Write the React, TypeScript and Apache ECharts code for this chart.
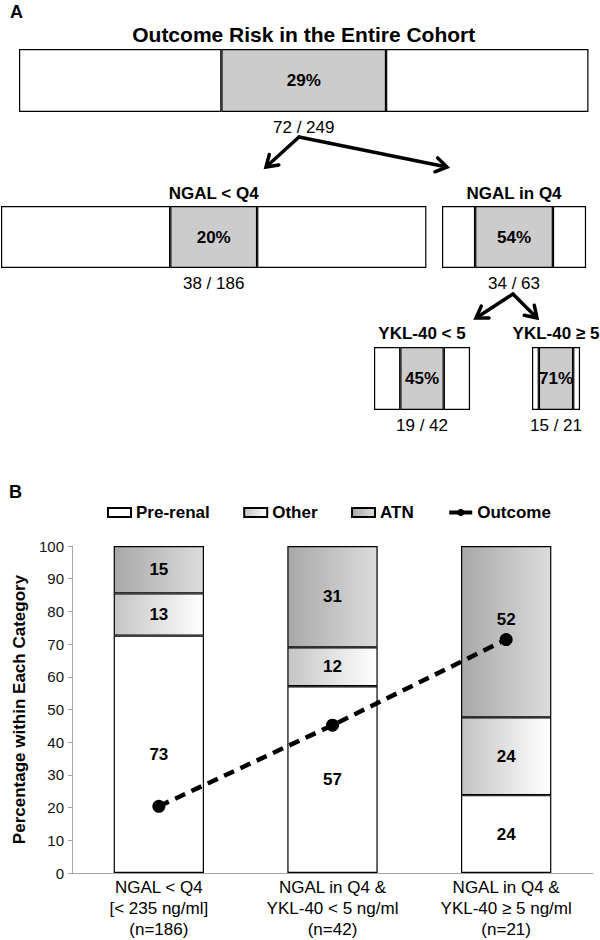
import React, { useEffect, useRef } from "react";
import * as echarts from "echarts";

// ---------- Panel A data ----------
const boxTitles = ["Outcome Risk in the Entire Cohort", "NGAL < Q4", "NGAL in Q4", "YKL-40 < 5", "YKL-40 ≥ 5"];
const boxEvents = [72, 38, 34, 19, 15];
const boxTotals = [249, 186, 63, 42, 21];

// ---------- Panel B data ----------
const categories = [
  "NGAL < Q4\n[< 235 ng/ml]\n(n=186)",
  "NGAL in Q4 &\nYKL-40 < 5 ng/ml\n(n=42)",
  "NGAL in Q4 &\nYKL-40 ≥ 5 ng/ml\n(n=21)",
];
const preRenal = [72.6, 57.1, 23.8];
const other = [12.9, 11.9, 23.8];
const atn = [14.5, 31.0, 52.4];
const outcome = [20.4, 45.2, 71.4];

// ---------- layout (not data) ----------
const FONT = "'Liberation Sans', Arial, Helvetica, sans-serif";
const PX_PER_PATIENT = 2.287;
const boxLayout = [
  { x: 19, y: 49, h: 63, titleY: 34, titleSize: 21 },
  { x: 1, y: 206, h: 62, titleY: 193, titleSize: 17 },
  { x: 442, y: 206, h: 62, titleY: 193, titleSize: 17 },
  { x: 374, y: 347, h: 63, titleY: 333, titleSize: 17 },
  { x: 532, y: 347, h: 63, titleY: 333, titleSize: 17 },
];
const arrows = [
  [299, 137, 266, 167],
  [299, 137, 447, 167],
  [513, 294, 476, 318],
  [513, 294, 537, 318],
];

function arrowEls(x1: number, y1: number, x2: number, y2: number) {
  const dx = x2 - x1;
  const dy = y2 - y1;
  const len = Math.sqrt(dx * dx + dy * dy);
  const ux = dx / len;
  const uy = dy / len;
  const L = 13;
  const a = (33 * Math.PI) / 180;
  const w1 = [x2 - L * (ux * Math.cos(a) - uy * Math.sin(a)), y2 - L * (uy * Math.cos(a) + ux * Math.sin(a))];
  const w2 = [x2 - L * (ux * Math.cos(a) + uy * Math.sin(a)), y2 - L * (uy * Math.cos(a) - ux * Math.sin(a))];
  return [
    {
      type: "line",
      shape: { x1, y1, x2: x2 - ux * 1.5, y2: y2 - uy * 1.5 },
      style: { stroke: "#000", lineWidth: 3.5, lineCap: "round" },
    },
    {
      type: "polyline",
      shape: { points: [w1, [x2, y2], w2] },
      style: { stroke: "#000", lineWidth: 3.5, fill: null, lineJoin: "miter", lineCap: "round" },
    },
  ];
}

export default function App() {
  const ref = useRef<HTMLDivElement>(null);

  useEffect(() => {
    document.body.style.margin = "0";
    if (!ref.current) return;
    const chart = echarts.init(ref.current, null, { renderer: "svg" });

    const grids: any[] = [];
    const xAxes: any[] = [];
    const yAxes: any[] = [];
    const series: any[] = [];
    const graphics: any[] = [];

    // Panel A boxes
    boxTotals.forEach((n, i) => {
      const e = boxEvents[i];
      const lay = boxLayout[i];
      const w = n * PX_PER_PATIENT;
      grids.push({ left: lay.x, top: lay.y, width: w, height: lay.h });
      xAxes.push({ gridIndex: i, type: "value", min: 0, max: n, show: false });
      yAxes.push({ gridIndex: i, type: "category", data: ["box"], show: false });
      const seg = (name: string, value: number, color: string, label: boolean) => ({
        type: "bar",
        name,
        xAxisIndex: i,
        yAxisIndex: i,
        stack: "box" + i,
        barWidth: "100%",
        silent: true,
        data: [value],
        itemStyle: { color, borderColor: "#000", borderWidth: 1.2 },
        label: label
          ? {
              show: true,
              position: "inside",
              formatter: () => Math.round((e / n) * 100) + "%",
              fontFamily: FONT,
              fontWeight: "bold",
              fontSize: 17,
              color: "#000",
            }
          : { show: false },
      });
      series.push(seg("a" + i + "l", (n - e) / 2, "#ffffff", false));
      series.push(seg("a" + i + "m", e, "#cccccc", true));
      series.push(seg("a" + i + "r", (n - e) / 2, "#ffffff", false));

      const cx = lay.x + w / 2;
      graphics.push({
        type: "text",
        x: cx,
        y: lay.titleY,
        style: {
          text: boxTitles[i],
          fill: "#000",
          fontFamily: FONT,
          fontWeight: "bold",
          fontSize: lay.titleSize,
          align: "center",
          verticalAlign: "middle",
          textAlign: "center",
          textVerticalAlign: "middle",
        },
      });
      graphics.push({
        type: "text",
        x: cx,
        y: lay.y + lay.h + 15,
        style: {
          text: `${e} / ${n}`,
          fill: "#000",
          fontFamily: FONT,
          fontSize: 17,
          align: "center",
          verticalAlign: "middle",
          textAlign: "center",
          textVerticalAlign: "middle",
        },
      });
    });

    arrows.forEach((a) => graphics.push(...arrowEls(a[0], a[1], a[2], a[3])));

    graphics.push({
      type: "text",
      x: 10,
      y: 12,
      style: { text: "A", fill: "#000", fontFamily: FONT, fontWeight: "bold", fontSize: 18, verticalAlign: "middle", textVerticalAlign: "middle" },
    });
    graphics.push({
      type: "text",
      x: 9,
      y: 492,
      style: { text: "B", fill: "#000", fontFamily: FONT, fontWeight: "bold", fontSize: 18, verticalAlign: "middle", textVerticalAlign: "middle" },
    });

    // Panel B
    const gi = boxTotals.length;
    grids.push({ left: 72, right: 7, top: 546, bottom: 67 });
    xAxes.push({
      gridIndex: gi,
      type: "category",
      data: categories,
      axisLine: { show: true, lineStyle: { color: "#a6a6a6", width: 1 } },
      axisTick: { show: false },
      axisLabel: { interval: 0, fontFamily: FONT, fontSize: 17, lineHeight: 21, color: "#000", margin: 4 },
    });
    yAxes.push({
      gridIndex: gi,
      type: "value",
      min: 0,
      max: 100,
      interval: 10,
      name: "Percentage within Each Category",
      nameLocation: "middle",
      nameGap: 32,
      nameTextStyle: { fontFamily: FONT, fontWeight: "bold", fontSize: 17, color: "#000" },
      axisLine: { show: true, lineStyle: { color: "#a6a6a6", width: 1 } },
      axisTick: { show: true, length: 4, lineStyle: { color: "#a6a6a6" } },
      axisLabel: { fontFamily: FONT, fontSize: 15, color: "#111", margin: 8 },
      splitLine: { show: false },
    });

    const barLabel = {
      show: true,
      position: "inside",
      formatter: (p: any) => String(Math.round(p.value)),
      fontFamily: FONT,
      fontWeight: "bold",
      fontSize: 17,
      color: "#000",
    };
    const barBase = {
      type: "bar",
      xAxisIndex: gi,
      yAxisIndex: gi,
      stack: "B",
      barCategoryGap: "48%",
      label: barLabel,
    };
    const grad = (c1: string, c2: string) =>
      new echarts.graphic.LinearGradient(0, 0, 1, 0, [
        { offset: 0, color: c1 },
        { offset: 1, color: c2 },
      ]);
    series.push({
      ...barBase,
      name: "Pre-renal",
      data: preRenal,
      itemStyle: { color: "#ffffff", borderColor: "#000", borderWidth: 1.2 },
    });
    series.push({
      ...barBase,
      name: "Other",
      data: other,
      itemStyle: { color: grad("#c4c4c4", "#ffffff"), borderColor: "#000", borderWidth: 1.2 },
    });
    series.push({
      ...barBase,
      name: "ATN",
      data: atn.map((v, i) => (i === atn.length - 1 ? { value: v, label: { offset: [0, -12] } } : v)),
      itemStyle: { color: grad("#a8a8a8", "#dcdcdc"), borderColor: "#000", borderWidth: 1.2 },
    });
    series.push({
      type: "line",
      name: "Outcome",
      xAxisIndex: gi,
      yAxisIndex: gi,
      data: outcome,
      z: 10,
      symbol: "circle",
      symbolSize: 13,
      itemStyle: { color: "#000" },
      lineStyle: { color: "#000", width: 4.5, type: [11, 7] },
    });

    chart.setOption({
      animation: false,
      backgroundColor: "#ffffff",
      grid: grids,
      xAxis: xAxes,
      yAxis: yAxes,
      series,
      graphic: graphics,
      legend: {
        left: 102,
        top: 499,
        itemWidth: 23,
        itemHeight: 9,
        itemGap: 33.5,
        selectedMode: false,
        textStyle: { fontFamily: FONT, fontWeight: "bold", fontSize: 17, color: "#000" },
        lineStyle: { type: "solid", width: 4 },
        data: [
          { name: "Pre-renal", icon: "rect" },
          { name: "Other", icon: "rect" },
          { name: "ATN", icon: "rect" },
          { name: "Outcome" },
        ],
      },
    });

    return () => chart.dispose();
  }, []);

  return <div ref={ref} style={{ width: 600, height: 940 }} />;
}
